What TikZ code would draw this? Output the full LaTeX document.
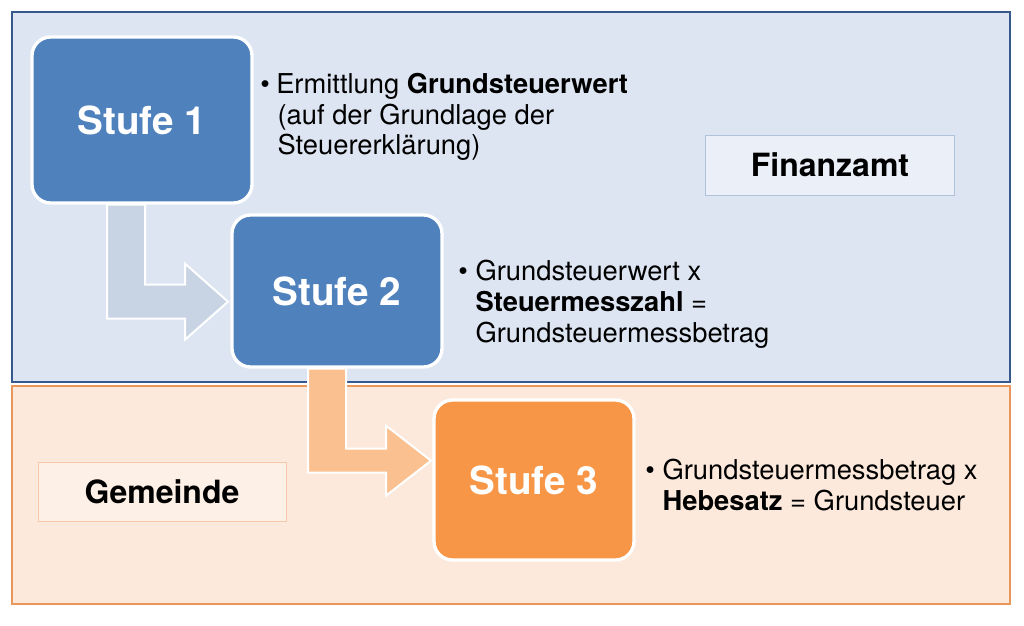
\documentclass[tikz,border=0pt]{standalone}
\usepackage{fontspec}
\setmainfont{TeX Gyre Heros}
\definecolor{topfill}{RGB}{221,229,242}
\definecolor{topline}{RGB}{55,88,140}
\definecolor{botfill}{RGB}{252,233,220}
\definecolor{botline}{RGB}{232,150,90}
\definecolor{bluebox}{RGB}{79,129,189}
\definecolor{orangebox}{RGB}{247,150,70}
\definecolor{arrblue}{RGB}{200,211,228}
\definecolor{arrorange}{RGB}{250,192,143}
\begin{document}
\begin{tikzpicture}[x=0.75pt,y=-0.75pt,
  stufe/.style={draw=white,line width=2.5pt,rounded corners=14pt,text=white,font=\fontsize{29}{32}\selectfont\bfseries},
  desc/.style={anchor=north west,align=left,inner sep=0pt,font=\fontsize{20.5}{23}\selectfont},
  label/.style={font=\fontsize{24}{26}\selectfont\bfseries}]
\useasboundingbox (0,0) rectangle (1024,625);
\fill[white] (0,0) rectangle (1024,625);
\draw[fill=topfill,draw=topline,line width=2.2pt] (12,12) rectangle (1010,382);
\draw[fill=botfill,draw=botline,line width=2.2pt] (12,386) rectangle (1010,604);
% boxes
\node[stufe,fill=bluebox,minimum width=220*0.75pt,minimum height=166*0.75pt] (s1) at (142,120) {Stufe 1};
\coordinate (s2pos) at (337,291);
\coordinate (s3pos) at (534,480);
% arrows
\draw[white,line width=1.5pt,fill=arrblue] ([xshift=-35*0.75pt]s1.south) -- ++(38,0) -- ++(0,80) -- ++(40,0) -- ++(0,-21) -- ++(43,38) -- ++(-43,38) -- ++(0,-21) -- ++(-78,0) -- cycle;
\node[stufe,fill=bluebox,minimum width=210*0.75pt,minimum height=152*0.75pt] (s2) at (s2pos) {Stufe 2};
\draw[white,line width=1.5pt,fill=arrorange] ([xshift=-29*0.75pt]s2.south) -- ++(38,0) -- ++(0,80) -- ++(40,0) -- ++(0,-23) -- ++(45,35) -- ++(-45,35) -- ++(0,-23) -- ++(-78,0) -- cycle;
\node[stufe,fill=orangebox,minimum width=200*0.75pt,minimum height=160*0.75pt] (s3) at (s3pos) {Stufe 3};
% labels
\node[label,draw=arrblue!80!bluebox,line width=0.5pt,fill=topfill!60!white,minimum width=249*0.75pt,minimum height=60*0.75pt] (fa) at (830,165) {Finanzamt};
\node[label,draw=botline!40!botfill,line width=0.5pt,fill=botfill!70!white,minimum width=248*0.75pt,minimum height=59*0.75pt] (ge) at (162,492) {Gemeinde};
% texts
\node[desc] (t1) at (260,73) {\makebox[12pt][l]{\textbullet}Ermittlung \textbf{Grundsteuerwert}\\\hspace*{13pt}(auf der Grundlage der\\\hspace*{13pt}Steuererklärung)};
\node[desc] (t2) at (458,260) {\makebox[13pt][l]{\textbullet}Grundsteuerwert x\\\hspace*{13pt}\textbf{Steuermesszahl} =\\\hspace*{13pt}Grundsteuermessbetrag};
\node[desc] (t3) at (645,459) {\makebox[13pt][l]{\textbullet}Grundsteuermessbetrag x\\\hspace*{13pt}\textbf{Hebesatz} = Grundsteuer};
\end{tikzpicture}
\end{document}
